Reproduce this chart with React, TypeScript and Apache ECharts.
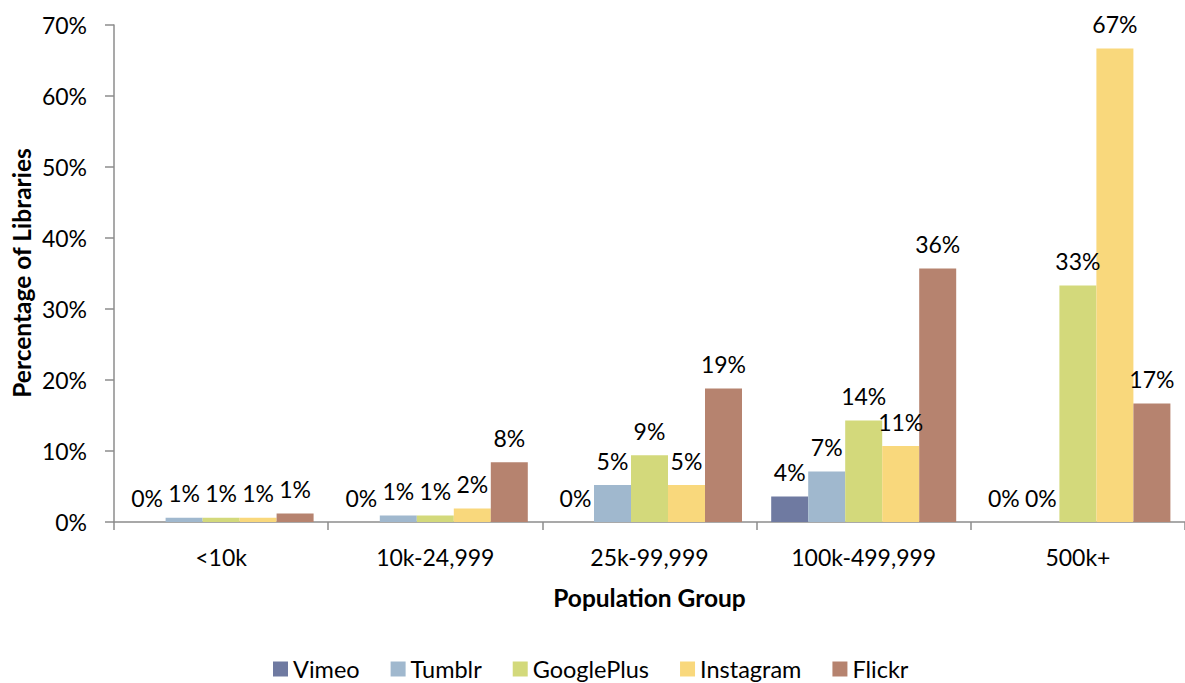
import React, { useEffect, useRef } from "react";
import * as echarts from "echarts";

const categories = ["<10k", "10k-24,999", "25k-99,999", "100k-499,999", "500k+"];
const seriesNames = ["Vimeo", "Tumblr", "GooglePlus", "Instagram", "Flickr"];
const vimeo = [0, 0, 0, 3.6, 0];
const tumblr = [0.6, 0.9, 5.2, 7.1, 0];
const googlePlus = [0.6, 0.9, 9.4, 14.3, 33.3];
const instagram = [0.6, 1.9, 5.2, 10.7, 66.7];
const flickr = [1.2, 8.4, 18.8, 35.7, 16.7];
const colors = ["#6f7aa1", "#a0b8ce", "#d3d97b", "#f9d87c", "#b6836f"];
const yTicks = [0, 10, 20, 30, 40, 50, 60, 70];
const yTitle = "Percentage of Libraries";
const xTitle = "Population Group";

const FONT = "Lato";

export default function App() {
  const ref = useRef<HTMLDivElement>(null);
  useEffect(() => {
    if (!ref.current) return;
    const chart = echarts.init(ref.current, null, { renderer: "svg" });
    const data = [vimeo, tumblr, googlePlus, instagram, flickr];
    chart.setOption({
      animation: false,
      textStyle: { fontFamily: FONT },
      color: colors,
      grid: { left: 114, top: 25, width: 1075, height: 497 },
      graphic: [
        {
          type: "text",
          x: 21,
          y: 273,
          rotation: Math.PI / 2,
          style: {
            text: yTitle,
            fontFamily: FONT,
            fontSize: 24.5,
            fontWeight: "bold",
            fill: "#000",
            align: "center",
            verticalAlign: "middle",
          },
        },
      ],
      legend: {
        top: 656,
        left: 273,
        padding: 0,
        itemWidth: 15,
        itemHeight: 15,
        itemGap: 31,
        icon: "rect",
        textStyle: { fontFamily: FONT, fontSize: 23.5, lineHeight: 26, color: "#000" },
        data: seriesNames,
      },
      xAxis: {
        type: "category",
        data: categories,
        name: xTitle,
        nameLocation: "middle",
        nameGap: 63,
        nameTextStyle: { fontFamily: FONT, fontSize: 24.5, fontWeight: "bold", color: "#000" },
        axisLine: { lineStyle: { color: "#8c8c8c", width: 1.5 } },
        axisTick: { show: true, length: 8, lineStyle: { color: "#8c8c8c", width: 1.5 } },
        axisLabel: { fontFamily: FONT, fontSize: 23, color: "#000", margin: 23 },
      },
      yAxis: {
        type: "value",
        min: yTicks[0],
        max: yTicks[yTicks.length - 1],
        interval: 10,
        splitLine: { show: false },
        axisLine: { show: true, lineStyle: { color: "#8c8c8c", width: 1.5 } },
        axisTick: { show: true, length: 9, lineStyle: { color: "#8c8c8c", width: 1.5 } },
        axisLabel: { fontFamily: FONT, fontSize: 23, color: "#000", margin: 27, formatter: "{value}%" },
      },
      series: seriesNames.map((name, i) => ({
        name,
        type: "bar",
        data: data[i],
        barWidth: 37,
        barGap: "0%",
        itemStyle: { color: colors[i] },
        label: {
          show: true,
          position: "top",
          distance: 13,
          fontFamily: FONT,
          fontSize: 23,
          color: "#000",
          formatter: (p: any) => Math.round(p.value) + "%",
        },
      })),
    });
    return () => chart.dispose();
  }, []);
  return (
    <div
      ref={ref}
      style={{ position: "fixed", left: 0, top: 0, width: 1185, height: 683, background: "#fff" }}
    />
  );
}
